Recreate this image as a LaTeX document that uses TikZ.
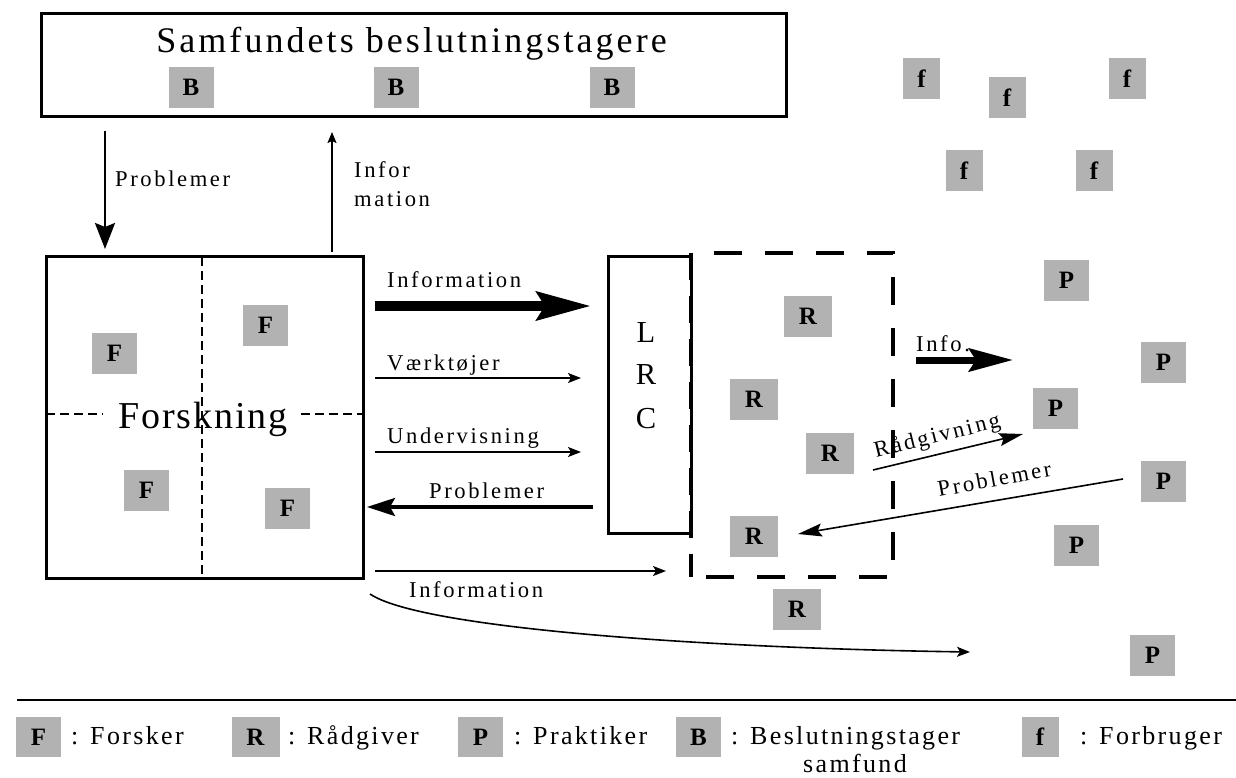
\documentclass[tikz,border=0pt]{standalone}
\usepackage{fontspec}
\setmainfont{Liberation Serif}
\newfontfamily\lblfont[LetterSpace=11.5]{Liberation Serif}
\newfontfamily\titlefont[LetterSpace=8.5]{Liberation Serif}
\newfontfamily\forsfont[LetterSpace=5]{Liberation Serif}
\newfontfamily\legfont[LetterSpace=9]{Liberation Serif}
\usetikzlibrary{arrows.meta}
\definecolor{boxgray}{RGB}{178,178,178}
\tikzset{
  gbox/.style={fill=boxgray, draw=none, minimum width=45pt, minimum height=41pt, inner sep=0pt, font=\bfseries\fontsize{25}{25}\selectfont},
  rgbox/.style={gbox, minimum width=48pt},
  fgbox/.style={gbox, minimum width=37pt},
  lab/.style={inner sep=0pt, anchor=base west, font=\lblfont\fontsize{22.6}{27}\selectfont},
  legtext/.style={inner sep=0pt, anchor=base west, font=\legfont\fontsize{26}{30}\selectfont},
  frame/.style={draw, line width=3pt, inner sep=0pt},
  fdash/.style={line width=2pt, dash pattern=on 9pt off 5pt},
  rdash/.style={line width=3.8pt, dash pattern=on 28pt off 23pt, dash phase=28pt},
  ldash/.style={line width=3.8pt, dash pattern=on 27pt off 16pt},
  thinarrow/.style={line width=1.6pt, -{Stealth[length=13pt,width=10pt,inset=3pt]}},
  midarrow/.style={line width=3.3pt, -{Stealth[length=28pt,width=18pt,inset=5pt]}},
  bigarrow/.style={line width=10pt, -{Stealth[length=54pt,width=28pt,inset=8pt]}},
  infoarrow/.style={line width=7pt, -{Stealth[length=44pt,width=23pt,inset=7pt]}},
  diagarrow/.style={line width=1.6pt, -{Stealth[length=24pt,width=13pt,inset=4pt]}},
}
\begin{document}
\begin{tikzpicture}[x=1pt,y=-1pt]
\useasboundingbox (0,0) rectangle (1236,778);

% top box: decision makers
\node[frame, minimum width=745pt, minimum height=103pt] (samf) at (413.5,65.5) {};
\node[anchor=base, inner sep=0pt, font=\titlefont\fontsize{36}{40}\selectfont] (samft) at (411.5,53) {Samfundets beslutningstagere};
\node[gbox] (b1) at (191,87.5) {B};
\node[gbox] (b2) at (396,87.5) {B};
\node[gbox] (b3) at (612,87.5) {B};

% arrows between top box and research box
\coordinate (pa) at (105,131);
\coordinate (pb) at (105,249);
\draw[line width=2.7pt, -{Stealth[length=26pt,width=20pt,inset=4pt]}] (pa) -- (pb);
\node[lab] (lprob1) at (115,187) {Problemer};
\coordinate (ia) at (332,252);
\coordinate (ib) at (332,132);
\draw[line width=1.5pt, -{Stealth[length=11pt,width=9pt,inset=2pt]}] (ia) -- (ib);
\node[lab] (linf1) at (354,178) {Infor};
\node[lab] (linf2) at (354,207) {mation};

% research box
\node[frame, minimum width=317pt, minimum height=322pt] (fors) at (204.5,417) {};
\draw[fdash] (46,414) -- (103,414);
\draw[fdash] (301,414) -- (363,414);
\node[anchor=base, inner sep=0pt, font=\forsfont\fontsize{38}{40}\selectfont] (forst) at (203,428) {Forskning};
\draw[fdash] (202,257) -- (202,577);
\node[gbox] (f1) at (114.5,353) {F};
\node[gbox] (f2) at (265.5,325.5) {F};
\node[gbox] (f3) at (146.5,490.5) {F};
\node[gbox] (f4) at (287.5,508.5) {F};

% LRC and advisers box
\node[frame, minimum width=83pt, minimum height=277pt] (lrc) at (649.5,394.5) {};
\node[anchor=base, inner sep=0pt, font=\fontsize{30.5}{30}\selectfont] (lrcl) at (646,342) {L};
\node[anchor=base, inner sep=0pt, font=\fontsize{30.5}{30}\selectfont] (lrcr) at (646,384) {R};
\node[anchor=base, inner sep=0pt, font=\fontsize{30.5}{30}\selectfont] (lrcc) at (646,428) {C};
\node[minimum width=202pt, minimum height=324pt, inner sep=0pt] (rbox) at (792,415) {};
\draw[rdash] (rbox.north west) -- (rbox.north east) -- (rbox.south east) -- (rbox.south west);
\draw[ldash] (rbox.north west) -- (rbox.south west);
\node[rgbox] (r1) at (808,316.5) {R};
\node[rgbox] (r2) at (754,399.5) {R};
\node[rgbox] (r3) at (830,453.5) {R};
\node[rgbox] (r4) at (754,536.5) {R};
\node[rgbox] (r5) at (797,609.5) {R};

% arrows research -> LRC
\coordinate (a1s) at (375,306); \coordinate (a1e) at (591,306);
\draw[bigarrow] (a1s) -- (a1e);
\node[lab] (la1) at (387,287) {Information};
\coordinate (a2s) at (375,378); \coordinate (a2e) at (581,378);
\draw[thinarrow] (a2s) -- (a2e);
\node[lab] (la2) at (387,370) {Værktøjer};
\coordinate (a3s) at (375,452); \coordinate (a3e) at (581,452);
\draw[thinarrow] (a3s) -- (a3e);
\node[lab] (la3) at (387,443) {Undervisning};
\coordinate (a4s) at (593,507); \coordinate (a4e) at (367,507);
\draw[midarrow] (a4s) -- (a4e);
\node[lab] (la4) at (429,498) {Problemer};
\coordinate (a5s) at (375,571); \coordinate (a5e) at (666,571);
\draw[thinarrow] (a5s) -- (a5e);
\node[lab] (la5) at (409,597) {Information};
\coordinate (a6s) at (370,594); \coordinate (a6e) at (970,652);
\draw[thinarrow] (a6s) .. controls (420,628) and (700,648) .. (a6e);

% practitioners
\node[gbox] (p1) at (1066.5,280.5) {P};
\node[gbox] (p2) at (1163.5,362.5) {P};
\node[gbox] (p3) at (1055.5,408.5) {P};
\node[gbox] (p4) at (1163.5,481.5) {P};
\node[gbox] (p5) at (1076.5,545.5) {P};
\node[gbox] (p6) at (1152.5,655.5) {P};

% arrows advisers <-> practitioners
\coordinate (a7s) at (916,360); \coordinate (a7e) at (1013,360);
\draw[infoarrow] (a7s) -- (a7e);
\node[lab] (la7) at (916,351) {Info.};
\coordinate (a8s) at (873,470); \coordinate (a8e) at (1023,434);
\draw[diagarrow] (a8s) -- (a8e);
\node[lab, rotate=14] (la8) at (876,458) {Rådgivning};
\coordinate (a9s) at (1123,479); \coordinate (a9e) at (798,534);
\draw[diagarrow] (a9s) -- (a9e);
\node[lab, rotate=10.5] (la9) at (939,497) {Problemer};

% consumers
\node[fgbox] (c1) at (921.5,78.5) {f};
\node[fgbox] (c2) at (1007,97.5) {f};
\node[fgbox] (c3) at (1127,78.5) {f};
\node[fgbox] (c4) at (964,170.5) {f};
\node[fgbox] (c5) at (1094,170.5) {f};

% legend
\coordinate (sepa) at (17,700); \coordinate (sepb) at (1236,700);
\draw[line width=2.7pt] (sepa) -- (sepb);
\node[gbox, minimum height=40pt] (lf) at (38.5,737) {F};
\node[legtext] (lft) at (71,744) {: Forsker};
\node[gbox, minimum height=40pt, minimum width=48pt] (lr) at (255.5,737) {R};
\node[legtext] (lrt) at (288,744) {: Rådgiver};
\node[gbox, minimum height=40pt] (lp) at (480.5,737) {P};
\node[legtext] (lpt) at (514,744) {: Praktiker};
\node[gbox, minimum height=40pt] (lb) at (698.5,737) {B};
\node[legtext] (lbt) at (731,744) {: Beslutningstager};
\node[anchor=base, inner sep=0pt, font=\legfont\fontsize{26}{30}\selectfont] (lbt2) at (855,772) {samfund};
\node[fgbox, minimum height=40pt] (lc) at (1040,737) {f};
\node[legtext] (lct) at (1080,744) {: Forbruger};
\end{tikzpicture}
\end{document}
